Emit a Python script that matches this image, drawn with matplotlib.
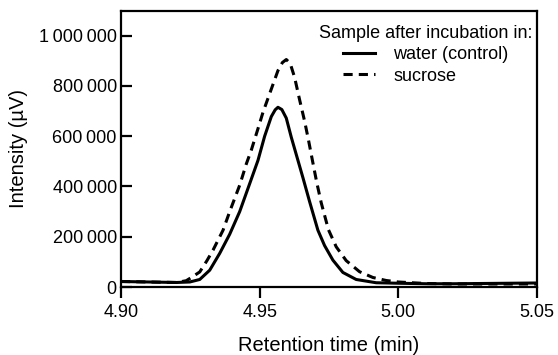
import matplotlib.pyplot as plt
from matplotlib.ticker import FuncFormatter

plt.rcParams['font.family'] = ['Liberation Sans', 'DejaVu Sans']

# ---------------- Data ----------------
t_water = [4.900, 4.905, 4.910, 4.915, 4.920, 4.9248, 4.9284, 4.9320, 4.9356, 4.9392,
           4.9428, 4.9464, 4.9494, 4.9518, 4.9542, 4.9556, 4.9566, 4.9580, 4.9596,
           4.9614, 4.9638, 4.9656, 4.9680, 4.9710, 4.9734, 4.9764, 4.9800, 4.9848,
           4.9920, 5.0000, 5.0100, 5.0200, 5.0300, 5.0400, 5.0500]
i_water = [22000, 21000, 20000, 19000, 18000, 20000, 30000, 67000, 134000, 210000,
           300000, 411000, 504000, 600000, 678000, 705000, 715000, 706000, 672000,
           596000, 504000, 435000, 340000, 226000, 165000, 107000, 58000, 30000,
           17000, 15000, 13000, 13000, 14000, 15000, 16000]

t_sucrose = [4.900, 4.905, 4.910, 4.915, 4.920, 4.9235, 4.9254, 4.9284, 4.9310, 4.9332,
             4.9368, 4.9392, 4.9428, 4.9452, 4.9470, 4.9494, 4.9512, 4.9536, 4.9566,
             4.9582, 4.9596, 4.9610, 4.9626, 4.9644, 4.9662, 4.9676, 4.9690, 4.9706,
             4.9722, 4.9748, 4.9776, 4.9812, 4.9860, 4.9908, 4.9956, 5.0000, 5.0100,
             5.0200, 5.0300, 5.0400, 5.0500]
i_sucrose = [22000, 21000, 20000, 19000, 18000, 25000, 38000, 60000, 105000, 147000,
             226000, 300000, 405000, 490000, 545000, 630000, 695000, 769000, 861000,
             893000, 905000, 890000, 834000, 745000, 660000, 585000, 505000, 415000,
             335000, 228000, 160000, 105000, 61000, 38000, 26000, 20000, 14000,
             12000, 12000, 12000, 12000]

x_ticks = [4.90, 4.95, 5.00, 5.05]
y_ticks = [0, 200000, 400000, 600000, 800000, 1000000]

# ---------------- Figure ----------------
fig = plt.figure(figsize=(5.58, 3.55), dpi=100)
ax1 = fig.add_axes([0.2168, 0.1915, 0.7456, 0.7789])

ax1.plot(t_water, i_water, color='k', lw=2.2, solid_joinstyle='round',
         label='water (control)')
ax1.plot(t_sucrose, i_sucrose, color='k', lw=2.2, dashes=(3, 2), dash_joinstyle='round',
         label='sucrose')

ax1.set_xlim(4.90, 5.05)
ax1.set_ylim(0, 1.1e6)
ax1.set_xticks(x_ticks)
ax1.set_yticks(y_ticks)
ax1.xaxis.set_major_formatter(FuncFormatter(lambda v, p: '%.2f' % v))
ax1.yaxis.set_major_formatter(FuncFormatter(lambda v, p: format(int(v), ',').replace(',', '\u2009')))

for axis in ['top', 'bottom', 'left', 'right']:
    ax1.spines[axis].set_linewidth(1.6)
ax1.tick_params(axis='x', direction='out', length=8, width=1.6, labelsize=13, pad=4)
ax1.tick_params(axis='y', direction='in', length=8, width=1.6, labelsize=13, pad=3)

ax1.set_xlabel('Retention time (min)', fontsize=14.5, labelpad=11)
ax1.set_ylabel('Intensity (\u00b5V)', fontsize=14.5, labelpad=8)

leg = ax1.legend(title='Sample after incubation in:', loc='upper right', frameon=False,
                 fontsize=13, title_fontsize=13, handlelength=1.8, handletextpad=1.0,
                 labelspacing=0.25, borderaxespad=0.1, bbox_to_anchor=(1.01, 0.98))
leg._legend_box.sep = 3

fig.savefig('out.png', dpi=100)
